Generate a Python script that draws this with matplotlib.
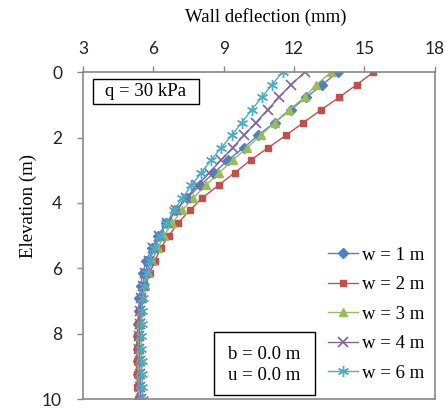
import matplotlib
matplotlib.use("Agg")
import matplotlib.pyplot as plt
from matplotlib.patches import Rectangle

# elevation of each wall node (m), 27 nodes from 0 to 10 m
elevation = [0.0, 0.38, 0.77, 1.15, 1.54, 1.92, 2.31, 2.69, 3.08, 3.46, 3.85, 4.23, 4.62, 5.0,
             5.38, 5.77, 6.15, 6.54, 6.92, 7.31, 7.69, 8.08, 8.46, 8.85, 9.23, 9.62, 10.0]

# wall deflection (mm) for each trench width w
w1 = [13.86, 13.20, 12.52, 11.85, 11.17, 10.48, 9.85, 9.18, 8.58, 8.00, 7.44, 6.96, 6.55, 6.20,
      5.94, 5.70, 5.55, 5.46, 5.40, 5.37, 5.35, 5.34, 5.34, 5.35, 5.36, 5.38, 5.40]
w2 = [15.38, 14.67, 13.92, 13.15, 12.40, 11.67, 10.90, 10.15, 9.46, 8.78, 8.08, 7.55, 7.05, 6.66,
      6.32, 6.06, 5.85, 5.65, 5.50, 5.40, 5.34, 5.30, 5.29, 5.29, 5.30, 5.32, 5.35]
w3 = [13.58, 12.94, 12.45, 11.78, 11.17, 10.60, 10.00, 9.38, 8.80, 8.23, 7.70, 7.22, 6.80, 6.46,
      6.18, 5.96, 5.78, 5.63, 5.52, 5.45, 5.40, 5.38, 5.37, 5.37, 5.38, 5.40, 5.42]
w4 = [12.47, 11.86, 11.36, 10.87, 10.37, 9.88, 9.38, 8.88, 8.38, 7.88, 7.40, 6.96, 6.58, 6.26,
      6.00, 5.80, 5.65, 5.55, 5.48, 5.44, 5.42, 5.41, 5.41, 5.42, 5.43, 5.45, 5.47]
w6 = [11.51, 11.06, 10.62, 10.19, 9.77, 9.35, 8.90, 8.46, 8.04, 7.62, 7.24, 6.88, 6.56, 6.28,
      6.04, 5.85, 5.72, 5.62, 5.56, 5.52, 5.50, 5.49, 5.49, 5.50, 5.51, 5.53, 5.55]

labels = ["w = 1 m", "w = 2 m", "w = 3 m", "w = 4 m", "w = 6 m"]
x_ticks = [3, 6, 9, 12, 15, 18]
y_ticks = [0, 2, 4, 6, 8, 10]

plt.rcParams['font.family'] = ['Liberation Serif', 'DejaVu Serif']

fig = plt.figure(figsize=(4.46, 4.08), dpi=100)
ax = fig.add_axes([0.186, 0.022, 0.789, 0.801])

# series styles (Excel-like)
styles = [
    dict(color="#4F81BD", marker="D", ms=5.5),
    dict(color="#C0504D", marker="s", ms=5),
    dict(color="#9BBB59", marker="^", ms=6),
    dict(color="#8064A2", marker="x", ms=7, mew=1.2),
    dict(color="#4BACC6", marker=(6, 2, 0), ms=8, mew=1.0),
]
for data, lab, st in zip([w1, w2, w3, w4, w6], labels, styles):
    ax.plot(data, elevation, lw=1.0, label=lab, **st)

ax.set_xlim(3, 18)
ax.set_ylim(10, 0)
ax.set_xticks(x_ticks)
ax.set_yticks(y_ticks)
ax.xaxis.tick_top()
ax.xaxis.set_label_position("top")
ax.set_xlabel("Wall deflection (mm)", fontsize=13.5)
ax.xaxis.set_label_coords(0.52, 1.153)
ax.set_ylabel("Elevation (m)", fontsize=13.5)
ax.yaxis.set_label_coords(-0.13, 0.59)
ax.tick_params(color="#888888", length=4, width=1, direction="out")
ax.tick_params(axis="x", pad=7)
ax.tick_params(axis="y", pad=11)
for lbl in ax.get_xticklabels() + ax.get_yticklabels():
    lbl.set_family(["Lato", "DejaVu Sans"])
    lbl.set_fontsize(12.5)
    lbl.set_color("#222222")
for s in ax.spines.values():
    s.set_color("#888888")
    s.set_linewidth(1.2)

# annotation boxes
ax.add_patch(Rectangle((0.028, 0.902), 0.302, 0.077, transform=ax.transAxes,
                       fill=True, fc="white", ec="black", lw=1.0, zorder=3))
ax.text(0.179, 0.940, "q = 30 kPa", transform=ax.transAxes, fontsize=13.5,
        va="center", ha="center", zorder=4)
ax.add_patch(Rectangle((0.372, 0.012), 0.287, 0.193, transform=ax.transAxes,
                       fill=True, fc="white", ec="black", lw=1.0, zorder=3))
ax.text(0.516, 0.135, "b = 0.0 m", transform=ax.transAxes, fontsize=13.5,
        va="center", ha="center", zorder=4)
ax.text(0.516, 0.073, "u = 0.0 m", transform=ax.transAxes, fontsize=13.5,
        va="center", ha="center", zorder=4)

ax.legend(loc="upper left", bbox_to_anchor=(0.696, 0.466), frameon=False, fontsize=13.5,
          handlelength=1.6, handletextpad=0.2, labelspacing=0.66, borderpad=0.0,
          borderaxespad=0.0)

fig.savefig("out.png", dpi=100)
